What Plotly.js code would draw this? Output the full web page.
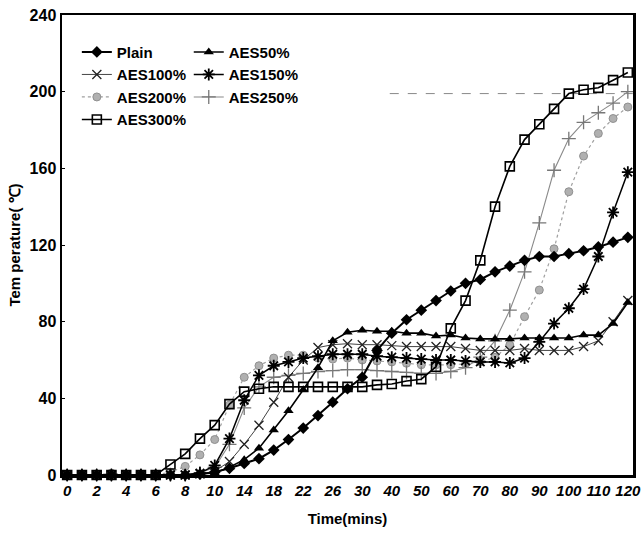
<!DOCTYPE html>
<html>
<head>
<meta charset="utf-8">
<script src="https://cdn.plot.ly/plotly-3.0.1.min.js"></script>
<style>html,body{margin:0;padding:0;background:#fff;}#chart{width:641px;height:559px;}</style>
</head>
<body>
<div id="chart"></div>
<script>
// Time points (minutes) - categorical axis
var time = ['0','1','2','3','4','5','6','7','8','9','10','12','14','16','18','20','22','24','26','28','30','35','40','45','50','55','60','65','70','75','80','85','90','95','100','105','110','115','120'];
var tickLabels = ['0','2','4','6','8','10','14','18','22','26','30','40','50','60','70','80','90','100','110','120'];

var plain   = [0,0,0,0,0,0,0,0,0,0.5,1.5,3.5,6,8.5,13,18.5,24.5,31,38,45,51,65,74,81,86,91,96,100,102,106,109,112,114,114,115.5,117,119,121.5,124];
var aes50   = [0,0,0,0,0,0,0,0,0,0.5,1,4,8,14,23.5,33.5,44.5,56,70,74.5,75.5,75,75,74,74,72.5,73,71.5,71,71,71,71.5,71.5,71.5,71.5,73,73,79,90];
var aes100  = [0,0,0,0,0,0,0,0,0,0.5,2,7,16,26,38,51,60,66.5,68,68.5,68,68,67.5,67,67,67,67,66,65,65,65,66,65,65,65,67,70,80,91];
var aes150  = [0,0,0,0,0,0,0,0,0,1,5,19,39,52,57,59,61,62,63,63,63,62,61.5,61,60.5,60,60,59.5,59,59,58.5,61,69.5,79,87,97,114,137,158];
var aes200  = [0,0,0,1,0,0,0,1.5,4.5,10.5,18.5,36.5,51,57,61,62.5,62.5,61,60.5,61,60,59.5,59,58.3,57.5,57.5,57.5,58,59,61.4,67.8,82.6,96.5,118,147.8,166.4,178.2,186,192];
var aes250  = [0,0,0,0,0,0,0,0,0,1,4,16,35,46,51,52,53,54,54.5,55,55,54.5,54,53.5,53,53,54,56,61.5,70,86,106,131.5,159,175.5,184,189,194,200];
var aes300  = [0,0,0,0,0,0,0,5.5,11,19,26,37,43.5,45,46,46,46,46,46,46,46,47,47.5,49,50,56.5,76.5,91,112,140,161,175,183,191,199,201,202,206,210];
var refLevel = 199;

var legFont = {family:'"Liberation Sans", Arial, sans-serif', size:15, color:'#000', weight:'bold'};

function tr(name, y, line, marker, legend, rank){
  return {type:'scatter', mode:'lines+markers', name:name, x:time, y:y, line:line, marker:marker,
          legend:legend, legendrank:rank, legendgroup:name, cliponaxis:false};
}

var traces = [
  tr('AES200%', aes200, {color:'#a0a0a0', width:1.2, dash:'dot'}, {symbol:'circle', size:8, color:'#b0b0b0', line:{color:'#909090', width:1}}, 'legend', 3),
  tr('AES250%', aes250, {color:'#8a8a8a', width:1.1}, {symbol:'cross-thin-open', size:10, color:'#777', line:{color:'#777', width:1.3}}, 'legend2', 3),
  tr('AES100%', aes100, {color:'#444', width:1}, {symbol:'x-thin-open', size:9, color:'#222', line:{color:'#222', width:1.3}}, 'legend', 2),
  tr('AES300%', aes300, {color:'#000', width:1.6}, {symbol:'square-open', size:9, color:'#000', line:{color:'#000', width:1.6}}, 'legend', 4),
  tr('AES150%', aes150, {color:'#000', width:1.5}, {symbol:'asterisk-open', size:10, color:'#000', line:{color:'#000', width:1.8}}, 'legend2', 2),
  tr('AES50%', aes50, {color:'#000', width:1.6}, {symbol:'triangle-up', size:9, color:'#000'}, 'legend2', 1),
  tr('Plain', plain, {color:'#000', width:2}, {symbol:'diamond', size:9, color:'#000'}, 'legend', 1)
];

var tickFontX = {family:'"Liberation Sans", Arial, sans-serif', size:15, color:'#000', weight:'bold', style:'italic'};
var tickFontY = {family:'"Liberation Sans", Arial, sans-serif', size:16, color:'#000', weight:'bold'};
var titleFont = {family:'"Liberation Sans", Arial, sans-serif', size:15, color:'#000', weight:'bold'};

var layout = {
  width:641, height:559,
  margin:{l:62, r:8, t:15, b:84},
  paper_bgcolor:'#fff', plot_bgcolor:'#fff',
  showlegend:true,
  xaxis:{type:'category', categoryorder:'array', categoryarray:time, range:[-0.35, 38.35],
         tickmode:'array', tickvals:tickLabels, ticktext:tickLabels, tickangle:0,
         showgrid:false, zeroline:false, showline:true, linecolor:'#000', linewidth:2.5, mirror:true,
         ticks:'', tickfont:tickFontX, ticklabelstandoff:0,
         title:{text:'Time(mins)', font:titleFont, standoff:16}},
  yaxis:{range:[0,240], tickmode:'array', tickvals:[0,40,80,120,160,200,240],
         showgrid:false, zeroline:false, showline:true, linecolor:'#000', linewidth:2.5, mirror:true,
         ticks:'inside', ticklen:3, tickcolor:'#000', tickfont:tickFontY,
         title:{text:'Tem perature( ℃)', font:titleFont, standoff:6}},
  legend:{x:0.026, y:0.955, xanchor:'left', yanchor:'top', bgcolor:'rgba(0,0,0,0)', font:legFont,
          tracegroupgap:9, itemwidth:30, traceorder:'normal'},
  legend2:{x:0.222, y:0.955, xanchor:'left', yanchor:'top', bgcolor:'rgba(0,0,0,0)', font:legFont,
          tracegroupgap:9, itemwidth:30, traceorder:'normal'},
  shapes:[{type:'line', xref:'paper', yref:'y', x0:0.574, x1:1, y0:refLevel, y1:refLevel,
           line:{color:'#888', width:1, dash:'dash'}, layer:'below'}]
};

Plotly.newPlot('chart', traces, layout, {staticPlot:true, displayModeBar:false});
</script>
</body>
</html>
